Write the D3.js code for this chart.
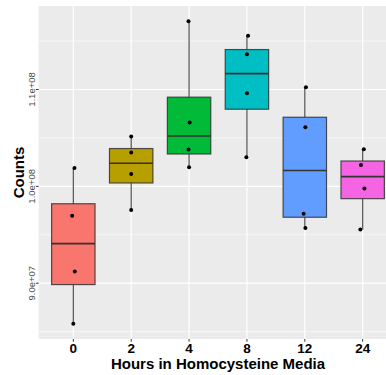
<!DOCTYPE html>
<html>
<head>
<meta charset="utf-8">
<script src="https://cdn.jsdelivr.net/npm/d3@7"></script>
<style>
  body { margin: 0; background: #fff; }
  svg { display: block; font-family: "Liberation Sans", Arial, sans-serif; }
</style>
</head>
<body>
<div id="chart"></div>
<script>
var width = 386,
    height = 375;

// hours in homocysteine media
var hours = ["0", "2", "4", "8", "12", "24"];
var colors = ["#F8766D", "#B79F00", "#00BA38", "#00BFC4", "#619CFF", "#F564E3"];

// raw counts per group (4 replicates each)
var counts0 = [1.0190e8, 0.9697e8, 0.9121e8, 0.8580e8];
var counts2 = [1.0514e8, 1.0349e8, 1.0128e8, 0.9756e8];
var counts4 = [1.1706e8, 1.0659e8, 1.0380e8, 1.0196e8];
var counts8 = [1.1555e8, 1.1365e8, 1.0962e8, 1.0300e8];
var counts12 = [1.1024e8, 1.0610e8, 0.9718e8, 0.9570e8];
var counts24 = [1.0383e8, 1.0221e8, 0.9979e8, 0.9555e8];

// jitter of points, in units of category width
var jitter0 = [0.02, -0.02, 0.025, 0.0];
var jitter2 = [0.0, 0.0, 0.0, 0.0];
var jitter4 = [-0.01, 0.01, -0.01, 0.0];
var jitter8 = [0.02, 0.0, 0.0, -0.01];
var jitter12 = [0.02, 0.01, -0.02, 0.01];
var jitter24 = [0.02, -0.03, 0.03, -0.04];

var yTicks = [9.0e7, 1.0e8, 1.1e8];
var yTickLabels = ["9.0e+07", "1.0e+08", "1.1e+08"];
var yMinor = [8.5e7, 9.5e7, 1.05e8, 1.15e8];

var allCounts = [counts0, counts2, counts4, counts8, counts12, counts24];
var allJitter = [jitter0, jitter2, jitter4, jitter8, jitter12, jitter24];

var groups = hours.map(function (h, i) {
    var v = allCounts[i].slice().sort(d3.ascending);
    var q1 = d3.quantile(v, 0.25),
        med = d3.quantile(v, 0.5),
        q3 = d3.quantile(v, 0.75),
        iqr = q3 - q1;
    var inside = v.filter(function (d) { return d >= q1 - 1.5 * iqr && d <= q3 + 1.5 * iqr; });
    return {
        hour: h, color: colors[i], values: allCounts[i], jitter: allJitter[i],
        q1: q1, med: med, q3: q3, lo: d3.min(inside), hi: d3.max(inside)
    };
});

var panel = {left: 38.6, top: 6, right: 397.4, bottom: 339};

var svg = d3.select("#chart")
    .append("svg")
    .attr("width", width)
    .attr("height", height);

var x = d3.scalePoint()
    .domain(hours)
    .range([panel.left, panel.right])
    .padding(0.6);

var ext = d3.extent(d3.merge(allCounts));
var pad = (ext[1] - ext[0]) * 0.05;
var y = d3.scaleLinear()
    .domain([ext[0] - pad, ext[1] + pad])
    .range([panel.bottom, panel.top]);

var step = x.step();
var boxW = step * 0.75;

// panel background
svg.append("rect")
    .attr("x", panel.left)
    .attr("y", panel.top)
    .attr("width", panel.right - panel.left)
    .attr("height", panel.bottom - panel.top)
    .attr("fill", "#EBEBEB");

// grid
svg.append("g").selectAll("line")
    .data(yMinor)
    .enter().append("line")
    .attr("x1", panel.left).attr("x2", panel.right)
    .attr("y1", d => y(d)).attr("y2", d => y(d))
    .attr("stroke", "#fff").attr("stroke-width", 0.6);

svg.append("g").selectAll("line")
    .data(yTicks)
    .enter().append("line")
    .attr("x1", panel.left).attr("x2", panel.right)
    .attr("y1", d => y(d)).attr("y2", d => y(d))
    .attr("stroke", "#fff").attr("stroke-width", 1.2);

svg.append("g").selectAll("line")
    .data(hours)
    .enter().append("line")
    .attr("x1", d => x(d)).attr("x2", d => x(d))
    .attr("y1", panel.top).attr("y2", panel.bottom)
    .attr("stroke", "#fff").attr("stroke-width", 1.2);

// boxes
var box = svg.append("g").selectAll("g")
    .data(groups)
    .enter().append("g");

box.append("line")
    .attr("x1", d => x(d.hour)).attr("x2", d => x(d.hour))
    .attr("y1", d => y(d.hi)).attr("y2", d => y(d.lo))
    .attr("stroke", "#333").attr("stroke-opacity", 0.85).attr("stroke-width", 1.2);

box.append("rect")
    .attr("x", d => x(d.hour) - boxW / 2)
    .attr("y", d => y(d.q3))
    .attr("width", boxW)
    .attr("height", d => y(d.q1) - y(d.q3))
    .attr("fill", d => d.color)
    .attr("stroke", "#333").attr("stroke-opacity", 0.85).attr("stroke-width", 1.2);

box.append("line")
    .attr("x1", d => x(d.hour) - boxW / 2).attr("x2", d => x(d.hour) + boxW / 2)
    .attr("y1", d => y(d.med)).attr("y2", d => y(d.med))
    .attr("stroke", "#333").attr("stroke-width", 1.6);

// points
box.selectAll("circle")
    .data(d => d.values.map((v, j) => ({hour: d.hour, v: v, jit: d.jitter[j]})))
    .enter().append("circle")
    .attr("cx", d => x(d.hour) + d.jit * step)
    .attr("cy", d => y(d.v))
    .attr("r", 2)
    .attr("fill", "#000");

// axes
svg.append("g").selectAll("line")
    .data(yTicks)
    .enter().append("line")
    .attr("x1", panel.left - 2.7).attr("x2", panel.left)
    .attr("y1", d => y(d)).attr("y2", d => y(d))
    .attr("stroke", "#333").attr("stroke-width", 1);

svg.append("g").selectAll("text")
    .data(yTicks)
    .enter().append("text")
    .attr("transform", (d, i) => "translate(34.5," + y(d) + ") rotate(-90)")
    .attr("text-anchor", "middle")
    .attr("font-size", 9.5)
    .attr("fill", "#4D4D4D")
    .text((d, i) => yTickLabels[i]);

svg.append("g").selectAll("line")
    .data(hours)
    .enter().append("line")
    .attr("x1", d => x(d)).attr("x2", d => x(d))
    .attr("y1", panel.bottom).attr("y2", panel.bottom + 2.7)
    .attr("stroke", "#333").attr("stroke-width", 1);

svg.append("g").selectAll("text")
    .data(hours)
    .enter().append("text")
    .attr("x", d => x(d))
    .attr("y", 352.6)
    .attr("text-anchor", "middle")
    .attr("font-size", 13.5)
    .attr("font-weight", "bold")
    .attr("fill", "#000")
    .text(d => d);

svg.append("text")
    .attr("x", (panel.left + panel.right) / 2)
    .attr("y", 368.6)
    .attr("text-anchor", "middle")
    .attr("font-size", 15)
    .attr("font-weight", "bold")
    .text("Hours in Homocysteine Media");

svg.append("text")
    .attr("transform", "translate(23.5," + (panel.top + panel.bottom) / 2 + ") rotate(-90)")
    .attr("text-anchor", "middle")
    .attr("font-size", 15)
    .attr("font-weight", "bold")
    .text("Counts");
</script>
</body>
</html>
